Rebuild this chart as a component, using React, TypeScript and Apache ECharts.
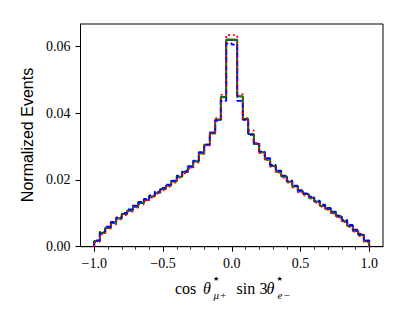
import React, { useEffect, useRef } from "react";
import * as echarts from "echarts";

// 50 bins of width 0.04 from -1 to 1
const BIN_EDGES: number[] = Array.from({ length: 51 }, (_, i) => Number((-1 + i * 0.04).toFixed(2)));

const blackVals = [
  0.0017, 0.0040, 0.0057, 0.0070, 0.0085, 0.0098, 0.0108, 0.0120, 0.0130, 0.0140,
  0.0150, 0.0162, 0.0172, 0.0183, 0.0195, 0.0210, 0.0223, 0.0238, 0.0255, 0.0280,
  0.0305, 0.0340, 0.0380, 0.0448, 0.0619,
  0.0619, 0.0450, 0.0383, 0.0337, 0.0308, 0.0282, 0.0262, 0.0242, 0.0225, 0.0210,
  0.0195, 0.0180, 0.0166, 0.0157, 0.0147, 0.0135, 0.0123, 0.0113, 0.0102, 0.0090,
  0.0077, 0.0062, 0.0048, 0.0035, 0.0017,
];
const greenVals = [
  0.0017, 0.0041, 0.0056, 0.0071, 0.0084, 0.0098, 0.0109, 0.0119, 0.0131, 0.0140,
  0.0151, 0.0161, 0.0173, 0.0183, 0.0196, 0.0209, 0.0224, 0.0238, 0.0256, 0.0279,
  0.0306, 0.0339, 0.0381, 0.0447, 0.0621,
  0.0620, 0.0451, 0.0382, 0.0338, 0.0307, 0.0283, 0.0261, 0.0243, 0.0224, 0.0211,
  0.0194, 0.0181, 0.0165, 0.0158, 0.0146, 0.0136, 0.0122, 0.0114, 0.0101, 0.0091,
  0.0076, 0.0063, 0.0047, 0.0036, 0.0016,
];
const blueVals = [
  0.0019, 0.0044, 0.0060, 0.0074, 0.0088, 0.0101, 0.0112, 0.0123, 0.0134, 0.0143,
  0.0154, 0.0165, 0.0176, 0.0186, 0.0198, 0.0213, 0.0226, 0.0241, 0.0258, 0.0283,
  0.0306, 0.0342, 0.0378, 0.0437, 0.0609,
  0.0605, 0.0437, 0.0380, 0.0335, 0.0309, 0.0285, 0.0265, 0.0245, 0.0228, 0.0213,
  0.0198, 0.0183, 0.0169, 0.0160, 0.0150, 0.0138, 0.0126, 0.0116, 0.0105, 0.0093,
  0.0080, 0.0065, 0.0051, 0.0038, 0.0019,
];
const redVals = [
  0.0014, 0.0037, 0.0054, 0.0067, 0.0082, 0.0095, 0.0105, 0.0117, 0.0127, 0.0137,
  0.0147, 0.0159, 0.0169, 0.0180, 0.0192, 0.0207, 0.0220, 0.0235, 0.0252, 0.0278,
  0.0303, 0.0341, 0.0385, 0.0455, 0.0634,
  0.0633, 0.0457, 0.0385, 0.0348, 0.0311, 0.0280, 0.0259, 0.0239, 0.0222, 0.0207,
  0.0192, 0.0177, 0.0163, 0.0154, 0.0144, 0.0132, 0.0120, 0.0110, 0.0099, 0.0087,
  0.0074, 0.0059, 0.0045, 0.0032, 0.0014,
];

const xMajorTicks = [-1, -0.5, 0, 0.5, 1];
const xMinorTicks = [-0.9, -0.8, -0.7, -0.6, -0.4, -0.3, -0.2, -0.1, 0.1, 0.2, 0.3, 0.4, 0.6, 0.7, 0.8, 0.9];
const yTicks = [0, 0.02, 0.04, 0.06];

function toSteps(vals: number[]): number[][] {
  const pts: number[][] = [[BIN_EDGES[0], 0]];
  vals.forEach((v, i) => pts.push([BIN_EDGES[i], v]));
  pts.push([BIN_EDGES[BIN_EDGES.length - 1], vals[vals.length - 1]]);
  pts.push([BIN_EDGES[BIN_EDGES.length - 1], 0]);
  return pts;
}

const SERIF = "'Liberation Serif', 'DejaVu Serif', serif";

function txt(text: string, x: number, y: number, size: number, italic = false, family = SERIF) {
  return {
    type: "text",
    x,
    y,
    silent: true,
    style: {
      text,
      fontSize: size,
      fontFamily: family,
      fontStyle: italic ? "italic" : "normal",
      fill: "#000",
      align: "left",
      textAlign: "left",
      verticalAlign: "middle",
      textVerticalAlign: "middle",
    },
  };
}

export default function App() {
  const ref = useRef<HTMLDivElement>(null);
  useEffect(() => {
    if (!ref.current) return;
    const chart = echarts.init(ref.current, null, { renderer: "svg" });
    const mkLine = (name: string, vals: number[], color: string, width: number, type: any) => ({
      name,
      type: "line",
      step: "end",
      showSymbol: false,
      symbol: "none",
      data: toSteps(vals),
      lineStyle: { color, width, type, cap: "butt" },
      silent: true,
    });
    chart.setOption({
      animation: false,
      backgroundColor: "#fff",
      grid: {
        left: 80.5,
        right: 25,
        top: 24,
        bottom: 72.3,
        show: true,
        borderColor: "#000",
        borderWidth: 1,
        backgroundColor: "transparent",
        outerBoundsMode: "none",
        containLabel: false,
      },
      xAxis: [
        {
          type: "value",
          min: -1.1,
          max: 1.1,
          axisLine: { show: true, onZero: false, lineStyle: { color: "#000", width: 1 } },
          axisTick: { show: true, customValues: xMajorTicks, length: 5, lineStyle: { color: "#000", width: 1 } },
          axisLabel: {
            customValues: xMajorTicks,
            formatter: (v: number) => v.toFixed(1).replace("-", "\u2212"),
            fontFamily: SERIF,
            fontSize: 14,
            color: "#000",
            margin: 10,
          },
          splitLine: { show: false },
        },
        {
          type: "value",
          min: -1.1,
          max: 1.1,
          position: "bottom",
          axisLine: { show: false },
          axisTick: { show: true, customValues: xMinorTicks, length: 3, lineStyle: { color: "#000", width: 0.8 } },
          axisLabel: { show: false },
          splitLine: { show: false },
        },
      ],
      yAxis: {
        type: "value",
        min: 0,
        max: 0.0667,
        axisLine: { show: true, onZero: false, lineStyle: { color: "#000", width: 1 } },
        axisTick: { show: true, customValues: yTicks, length: 5, lineStyle: { color: "#000", width: 1 } },
        axisLabel: {
          customValues: yTicks,
          formatter: (v: number) => v.toFixed(2),
          fontFamily: SERIF,
          fontSize: 14,
          color: "#000",
          margin: 10,
        },
        splitLine: { show: false },
      },
      series: [
        mkLine("black", blackVals, "#000000", 1.5, "solid"),
        mkLine("green", greenVals, "#008000", 1.8, "solid"),
        mkLine("blue", blueVals, "#0000ff", 1.8, [5.5, 2.4]),
        mkLine("red", redVals, "#ff0000", 1.8, [1.8, 3]),
      ],
      graphic: [
        {
          type: "text",
          x: 27,
          y: 135,
          rotation: Math.PI / 2,
          silent: true,
          style: {
            text: "Normalized Events",
            fontSize: 16,
            fontFamily: "'Liberation Sans', Arial, sans-serif",
            fill: "#000",
            align: "center",
            textAlign: "center",
            verticalAlign: "middle",
            textVerticalAlign: "middle",
          },
        },
        txt("cos", 175, 288, 16),
        txt("θ", 203, 288, 16, true),
        txt("\u2605", 213, 279, 7, false, "'DejaVu Sans', sans-serif"),
        txt("μ", 213.5, 295, 11, true),
        txt("+", 220, 295, 11),
        txt("sin", 236.5, 288, 16),
        txt("3", 259.5, 288, 16),
        txt("θ", 266.5, 288, 16, true),
        txt("\u2605", 276.5, 279, 7, false, "'DejaVu Sans', sans-serif"),
        txt("e", 277.5, 295, 11, true),
        txt("\u2212", 283.5, 295, 11),
      ],
    });
    return () => chart.dispose();
  }, []);
  return (
    <div
      ref={ref}
      style={{ position: "fixed", left: 0, top: 0, width: 408, height: 319, background: "#fff" }}
    />
  );
}
